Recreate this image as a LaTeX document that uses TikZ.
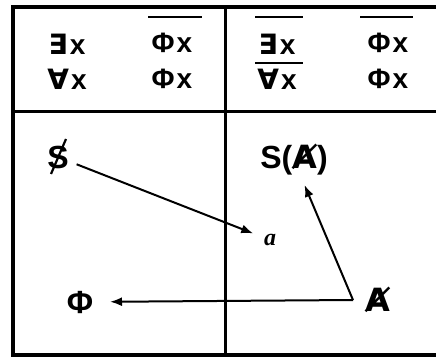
\documentclass[tikz,border=0pt]{standalone}
\usepackage{fontspec}
\setmainfont{Liberation Sans}
\newfontfamily\dvs{DejaVu Sans}
\newfontfamily\lsi{Liberation Serif}
\usetikzlibrary{arrows.meta}
\newcommand{\qx}[1]{#1\kern2pt x}
\begin{document}
\begin{tikzpicture}[x=1pt,y=-1pt,
  frame/.style={line width=4pt},
  divider/.style={line width=3pt},
  bar/.style={line width=2.2pt},
  cell/.style={inner sep=0pt,font=\fontsize{28}{28}\selectfont\bfseries},
  big/.style={inner sep=0pt,font=\fontsize{32}{32}\selectfont\bfseries},
  arr/.style={line width=2pt,-{Latex[length=12pt,width=9pt]}}]
\useasboundingbox (0,0) rectangle (436,358);
\clip (0,0) rectangle (436,358);
% frame
\draw[frame] (12.5,7) rectangle (460,354.5);
\draw[divider] (12.5,112) -- (460,112);
\draw[divider] (225,7) -- (225,354.5);
% table cells
\node[cell] (e1) at (67,44) {\qx{{\dvs ∃}}};
\node[cell] (p1) at (172,43) {\qx{Φ}};
\node[cell] (a1) at (67,79) {\qx{{\dvs ∀}}};
\node[cell] (p2) at (172,79) {\qx{Φ}};
\node[cell] (e2) at (277,44) {\qx{{\dvs ∃}}};
\node[cell] (p3) at (388,43) {\qx{Φ}};
\node[cell] (a2) at (277,79) {\qx{{\dvs ∀}}};
\node[cell] (p4) at (388,79) {\qx{Φ}};
% overlines
\draw[bar] (148,17) -- (202,17);
\draw[bar] (255,17) -- (303,17);
\draw[bar] (360,17) -- (413,17);
\draw[bar] (255,63) -- (303,63);
% lower part
\node[big] (S) at (58,157) {S};
\draw[line width=2.2pt] ([xshift=8pt,yshift=18pt]S.center) -- ([xshift=-7pt,yshift=-17pt]S.center);
\node[inner sep=0pt,font=\fontsize{24}{24}\selectfont\lsi\bfseries\itshape] (a) at (270,240) {a};
\node[big] (SA) at (294,160) {S({\dvs Ⱥ})};
\node[big] (Phi) at (80,302) {Φ};
\node[big] (A) at (378,300) {{\dvs Ⱥ}};
\coordinate (A0) at (353,300);
\draw[arr,shorten <=20pt,shorten >=18pt] (S.center) -- (a.center);
\draw[arr,shorten >=30pt] (A0) -- (Phi.center);
\draw[arr,shorten >=27pt] (A0) -- (SA.center);
\end{tikzpicture}
\end{document}
